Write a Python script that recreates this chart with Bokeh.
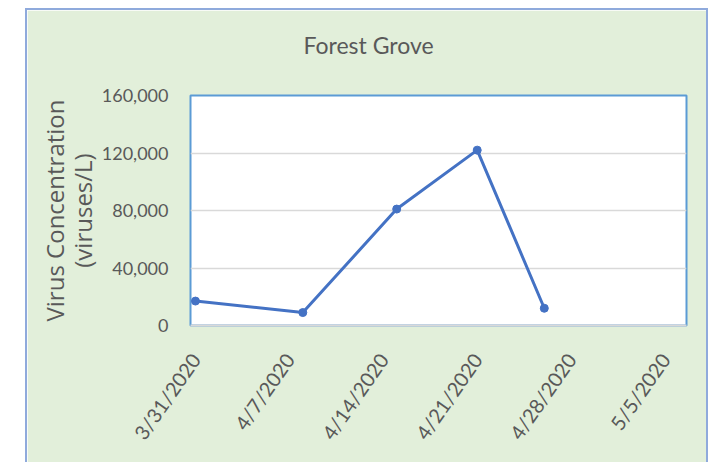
import math
import pandas as pd
from bokeh.plotting import figure
from bokeh.models import Range1d, FixedTicker, NumeralTickFormatter, Spacer, Title
from bokeh.layouts import row, column
from bokeh.embed import file_html
from bokeh.resources import INLINE

# ---- data ----
title_text = "Forest Grove"
sample_dates = ["2020-03-31", "2020-04-08", "2020-04-15", "2020-04-21", "2020-04-26"]
concentration = [17000, 9000, 81000, 122000, 12000]
x_tick_dates = ["2020-03-31", "2020-04-07", "2020-04-14", "2020-04-21", "2020-04-28", "2020-05-05"]
x_tick_labels = ["3/31/2020", "4/7/2020", "4/14/2020", "4/21/2020", "4/28/2020", "5/5/2020"]
y_ticks = [0, 40000, 80000, 120000, 160000]

origin = pd.Timestamp("2020-03-31")
xs = [(pd.Timestamp(d) - origin).days for d in sample_dates]
xt = [(pd.Timestamp(d) - origin).days for d in x_tick_dates]

GRAY = "#595959"
BLUE = "#4472C4"
FONT = "Lato"

p = figure(width=683, height=454, output_backend="svg", toolbar_location=None,
           x_range=Range1d(-0.37, 36.6), y_range=Range1d(0, 160000),
           min_border_left=163, min_border_right=24, min_border_top=85, min_border_bottom=139,
           background_fill_color="white", border_fill_color="#E2EFDA")
p.styles = {"border-top": "2px solid #8FAADC", "border-left": "2px solid #8FAADC",
            "border-right": "2px solid #8FAADC"}

p.outline_line_color = "#5B9BD5"
p.outline_line_width = 2

# spacer title row (blank) keeps the chart title higher above the plot area
p.add_layout(Title(text=" ", text_font=FONT, text_font_size="23px", standoff=7), "above")
p.add_layout(Title(text=title_text, align="left", offset=113, standoff=0,
                   text_font=FONT, text_font_size="23px", text_font_style="normal",
                   text_color=GRAY), "above")

p.line(xs, concentration, line_color=BLUE, line_width=3)
p.scatter(xs, concentration, size=8, fill_color=BLUE, line_color=BLUE)

# y axis
p.yaxis.ticker = FixedTicker(ticks=y_ticks)
p.yaxis.formatter = NumeralTickFormatter(format="0,0")
p.yaxis.major_tick_line_color = None
p.yaxis.minor_tick_line_color = None
p.yaxis.axis_line_color = None
p.yaxis.major_label_standoff = 16
p.yaxis.major_label_text_font = FONT
p.yaxis.major_label_text_font_size = "18px"
p.yaxis.major_label_text_color = GRAY
p.yaxis.axis_label = "Virus Concentration\n(viruses/L)"
p.yaxis.axis_label_text_font = "Open Sans"
p.yaxis.axis_label_text_font_size = "24px"
p.yaxis.axis_label_text_font_style = "normal"
p.yaxis.axis_label_text_color = GRAY
p.yaxis.axis_label_text_line_height = 0.85
p.yaxis.axis_label_standoff = 0

# x axis
p.xaxis.ticker = FixedTicker(ticks=xt)
p.xaxis.major_label_overrides = {t: lab for t, lab in zip(xt, x_tick_labels)}
p.xaxis.major_tick_line_color = None
p.xaxis.minor_tick_line_color = None
p.xaxis.axis_line_color = "#D9D9D9"
p.xaxis.axis_line_width = 2
p.xaxis.major_label_orientation = math.radians(55)
p.xaxis.major_label_standoff = 24
p.xaxis.major_label_text_font = FONT
p.xaxis.major_label_text_font_size = "20px"
p.xaxis.major_label_text_color = GRAY

p.xgrid.grid_line_color = None
p.ygrid.grid_line_color = "#D9D9D9"
p.ygrid.grid_line_width = 1.5

layout = column(Spacer(width=10, height=8), row(Spacer(width=25, height=10), p))
open("out.html", "w").write(file_html(layout, INLINE))
